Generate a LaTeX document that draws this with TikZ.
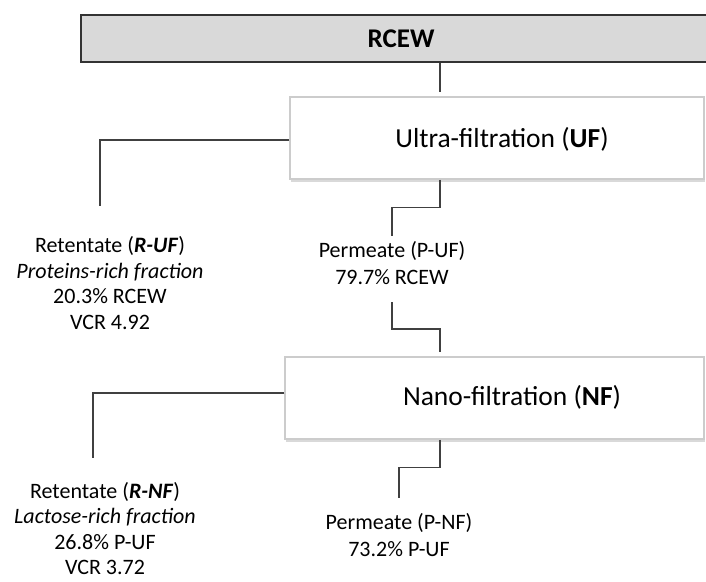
\documentclass[tikz,border=0pt]{standalone}
\usepackage{fontspec}
\setmainfont{Carlito}
\usetikzlibrary{positioning,shadows}

\begin{document}
\begin{tikzpicture}[x=1pt, y=-1pt,
    feedbox/.style={draw=black!80, fill=gray!30, line width=2pt, rectangle, minimum height=47pt, minimum width=640pt, font=\fontsize{27}{32}\selectfont\bfseries},
    stagebox/.style={draw=gray!40, fill=white, line width=1.5pt, rectangle, minimum height=82pt, drop shadow={shadow xshift=1pt, shadow yshift=-3pt, opacity=0.3}},
    title/.style={font=\fontsize{27.5}{33}\selectfont},
    frac/.style={align=center, inner sep=0pt, font=\fontsize{22}{25.5}\selectfont},
    perm/.style={frac, font=\fontsize{22}{27.5}\selectfont},
    flow/.style={draw=black!75, line width=1.2pt}
]
    \useasboundingbox (0,0) rectangle (706,581);
    \clip (0,0) rectangle (706,581);

    % Nodes
    \node[feedbox] (rcew) at (401,38.5) {RCEW};
    \node[stagebox, minimum width=414pt] (ufbox) at (497,138) {};
    \node[title] (uf) at (502,139) {Ultra-filtration (\textbf{UF})};
    \node[stagebox, minimum width=419pt] (nfbox) at (494.5,398) {};
    \node[title] (nf) at (512,397) {Nano-filtration (\textbf{NF})};

    \node[frac] (ruf) at (110,283) {Retentate (\textbf{\textit{R-UF}})\\\textit{Proteins-rich fraction}\\20.3\% RCEW\\VCR 4.92};
    \node[perm] (puf) at (392,263) {Permeate (P-UF)\\79.7\% RCEW};
    \node[frac] (rnf) at (105,528.5) {Retentate (\textbf{\textit{R-NF}})\\\textit{Lactose-rich fraction}\\26.8\% P-UF\\VCR 3.72};
    \node[perm] (pnf) at (399,535) {Permeate (P-NF)\\73.2\% P-UF};

    \coordinate (xa) at (440,0);
    \coordinate (rufend) at (100,206);
    \coordinate (rnfend) at (93,458);

    % Lines
    \draw[flow, shorten >=4pt] (rcew.south -| xa) -- (ufbox.north -| xa);
    \draw[flow] ([yshift=-2pt]ufbox.west) -| (rufend);
    \draw[flow, shorten >=5pt] (ufbox.south -| xa) -- ++(0,28) -| (puf.north);
    \draw[flow, shorten <=17pt, shorten >=4pt] (puf.south) -- ++(0,44) -| (nfbox.north -| xa);
    \draw[flow] ([yshift=5pt]nfbox.west) -| (rnfend);
    \draw[flow, shorten >=15pt] (nfbox.south -| xa) -- ++(0,28) -| (pnf.north);
\end{tikzpicture}
\end{document}
